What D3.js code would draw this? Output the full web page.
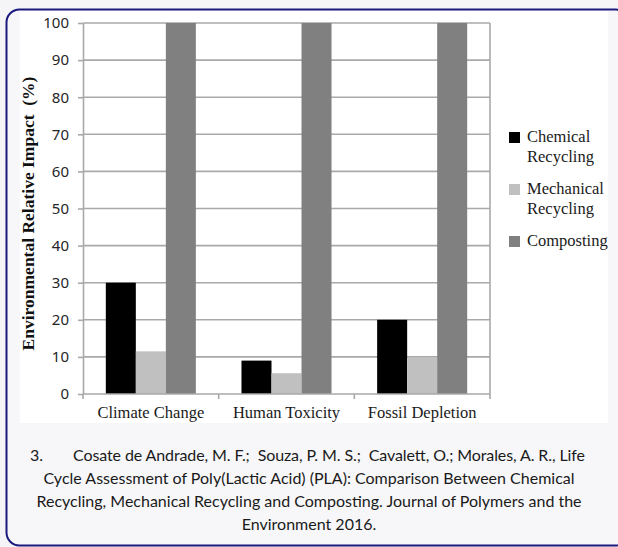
<!DOCTYPE html>
<html>
<head>
<meta charset="utf-8">
<script src="https://cdn.jsdelivr.net/npm/d3@7/dist/d3.min.js"></script>
<style>
  html, body { margin: 0; padding: 0; background: #f5f5f7; }
  svg { display: block; }
</style>
</head>
<body>
<svg id="chart" width="618" height="547"></svg>
<script>
const categories = ["Climate Change", "Human Toxicity", "Fossil Depletion"];
const seriesNames = ["Chemical Recycling", "Mechanical Recycling", "Composting"];
const legendLines = [["Chemical", "Recycling"], ["Mechanical", "Recycling"], ["Composting"]];
const chemicalRecycling = [30, 9, 20];
const mechanicalRecycling = [11.5, 5.6, 9.8];
const composting = [100, 100, 100];
const yTicks = [0, 10, 20, 30, 40, 50, 60, 70, 80, 90, 100];
const yLabel = "Environmental Relative Impact  (%)";
const captionLines = [
  "Cycle Assessment of Poly(Lactic Acid) (PLA): Comparison Between Chemical",
  "Recycling, Mechanical Recycling and Composting. Journal of Polymers and the",
  "Environment 2016."
];
const captionFirst = ["3.", "Cosate de Andrade, M. F.;  Souza, P. M. S.;  Cavalett, O.; Morales, A. R., Life"];

const colors = ["#000000", "#c0c0c0", "#808080"];
const seriesValues = [chemicalRecycling, mechanicalRecycling, composting];

const svg = d3.select("#chart");

// card background + border
svg.append("rect").attr("x", 6.5).attr("y", 9.5).attr("width", 622).attr("height", 536)
  .attr("rx", 13).attr("fill", "#f7f7f9").attr("stroke", "#1a1a7e").attr("stroke-width", 2);
// white chart image area
svg.append("rect").attr("x", 20).attr("y", 11).attr("width", 588).attr("height", 412).attr("fill", "#ffffff");

const pLeft = 83, pRight = 490, pTop = 23, pBottom = 394;
const y = d3.scaleLinear().domain([0, 100]).range([pBottom, pTop]);
const x0 = d3.scaleBand().domain(categories).range([pLeft, pRight]).paddingInner(0).paddingOuter(0);
const x1 = d3.scaleBand().domain(seriesNames).range([0, x0.bandwidth()]).paddingInner(0).paddingOuter(0.76);

const gridColor = "#a9a9a9";
// gridlines
svg.append("g").selectAll("line").data(yTicks.filter(d => d > 0)).join("line")
  .attr("x1", pLeft).attr("x2", pRight).attr("y1", d => y(d)).attr("y2", d => y(d))
  .attr("stroke", gridColor).attr("stroke-width", 1.6);
// right border of plot
svg.append("line").attr("x1", pRight).attr("x2", pRight).attr("y1", pTop).attr("y2", pBottom)
  .attr("stroke", gridColor).attr("stroke-width", 1.6);

// bars
const data = [];
categories.forEach((c, i) => seriesNames.forEach((s, j) => data.push({c, s, j, v: seriesValues[j][i]})));
svg.append("g").selectAll("rect").data(data).join("rect")
  .attr("x", d => x0(d.c) + x1(d.s))
  .attr("width", x1.bandwidth())
  .attr("y", d => y(d.v))
  .attr("height", d => y(0) - y(d.v))
  .attr("fill", d => colors[d.j]);

// y axis
const yAxis = d3.axisLeft(y).tickValues(yTicks).tickSize(5).tickPadding(9).tickSizeOuter(0);
const gy = svg.append("g").attr("transform", `translate(${pLeft},0)`).call(yAxis);
gy.attr("font-size", null).attr("font-family", null);
gy.select(".domain").attr("stroke", gridColor).attr("stroke-width", 1.6);
gy.selectAll(".tick line").attr("stroke", gridColor).attr("stroke-width", 1.6);
gy.selectAll(".tick text").style("font-family", "'Noto Sans', 'Open Sans', sans-serif")
  .style("font-size", "15px").attr("fill", "#262626");

// x axis
const xAxis = d3.axisBottom(x0).tickSize(0).tickPadding(12);
const gx = svg.append("g").attr("transform", `translate(0,${pBottom})`).call(xAxis);
gx.attr("font-size", null).attr("font-family", null);
gx.select(".domain").remove();
gx.selectAll(".tick text").style("font-family", "'Liberation Serif', 'Times New Roman', serif")
  .style("font-size", "16.5px").attr("fill", "#1a1a1a");
svg.append("line").attr("x1", pLeft).attr("x2", pRight).attr("y1", pBottom).attr("y2", pBottom)
  .attr("stroke", gridColor).attr("stroke-width", 1.6);
// category separator ticks
svg.append("g").selectAll("line").data(categories.slice(1).map(c => x0(c)).concat([pLeft, pRight])).join("line")
  .attr("x1", d => d).attr("x2", d => d).attr("y1", pBottom).attr("y2", pBottom + 5)
  .attr("stroke", gridColor).attr("stroke-width", 1.6);

// y label
svg.append("text")
  .attr("transform", `translate(34,${(pTop + pBottom) / 2 + 5}) rotate(-90)`)
  .attr("text-anchor", "middle")
  .style("font-family", "'Liberation Serif', 'Times New Roman', serif")
  .style("font-weight", "bold").style("font-size", "17.5px").attr("fill", "#111")
  .style("white-space", "pre")
  .text(yLabel);

// legend
const legendY = [132, 184, 236];
const lg = svg.append("g");
seriesNames.forEach((s, j) => {
  lg.append("rect").attr("x", 509).attr("y", legendY[j]).attr("width", 11).attr("height", 11).attr("fill", colors[j]);
  const t = lg.append("text").attr("x", 527).attr("y", legendY[j] + 10)
    .style("font-family", "'Liberation Serif', 'Times New Roman', serif").style("font-size", "16.5px").attr("fill", "#1a1a1a");
  legendLines[j].forEach((ln, k) => t.append("tspan").attr("x", 527).attr("dy", k === 0 ? 0 : 20).text(ln));
});

// caption
const capFont = "Lato, 'Open Sans', sans-serif";
svg.append("text").attr("x", 30).attr("y", 461).style("font-family", capFont).style("font-size", "16px")
  .attr("fill", "#1a1a1a").text(captionFirst[0]);
svg.append("text").attr("x", 73).attr("y", 461).style("font-family", capFont).style("font-size", "16px")
  .attr("fill", "#1a1a1a").style("white-space", "pre").attr("textLength", 512).attr("lengthAdjust", "spacing")
  .text(captionFirst[1]);
captionLines.forEach((ln, i) => {
  svg.append("text").attr("x", 309).attr("y", 484 + i * 23).attr("text-anchor", "middle")
    .style("font-family", capFont).style("font-size", "16px").attr("fill", "#1a1a1a").text(ln);
});
</script>
</body>
</html>
